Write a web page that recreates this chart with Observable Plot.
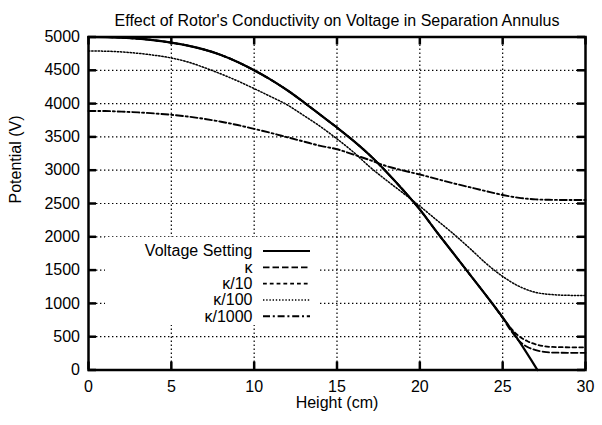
<!DOCTYPE html>
<html><head><meta charset="utf-8">
<script src="https://cdn.jsdelivr.net/npm/d3@7"></script>
<script src="https://cdn.jsdelivr.net/npm/@observablehq/plot@0.6"></script>
<style>
html,body{margin:0;padding:0;background:#fff;}
</style>
</head><body><div id="chart"></div>
<script>
const title = "Effect of Rotor's Conductivity on Voltage in Separation Annulus";
const xLabel = "Height (cm)";
const yLabel = "Potential (V)";
const xTicks = [0, 5, 10, 15, 20, 25, 30];
const yTicks = [0, 500, 1000, 1500, 2000, 2500, 3000, 3500, 4000, 4500, 5000];
const seriesNames = ["Voltage Setting", "κ", "κ/10", "κ/100", "κ/1000"];

const settingX = [0,1,2,3,4,5,6,7,8,9,10,11,12,13,14,15,16,17,18,19,20,21,22,23,24,25,26,27,27.1];
const settingV = [5000,4998,4990,4975,4950,4915,4870,4810,4730,4625,4500,4360,4200,4020,3830,3640,3440,3220,2970,2700,2410,2080,1760,1440,1120,790,430,40,0];

const kappaX = [0,1,2,3,4,5,6,7,8,9,10,11,12,13,14,15,16,17,18,19,20,21,22,23,24,24.5,25,25.5,26,26.5,27,27.5,28,29,30];
const kappaV = [5000,4998,4990,4975,4950,4915,4870,4810,4730,4625,4500,4360,4200,4020,3830,3640,3440,3220,2970,2700,2410,2080,1760,1440,1120,955,780,590,435,345,298,272,262,258,258];

const kappa10X = [0,1,2,3,4,5,6,7,8,9,10,11,12,13,14,15,16,17,18,19,20,21,22,23,24,24.5,25,25.5,26,26.5,27,27.5,28,29,30];
const kappa10V = [5000,4998,4990,4975,4950,4915,4870,4810,4730,4625,4500,4360,4200,4020,3830,3640,3440,3220,2970,2700,2410,2080,1760,1440,1120,955,790,625,505,432,385,357,346,341,340];

const kappa100X = [0,1,2,3,4,5,6,7,8,9,10,11,12,13,14,15,16,17,18,19,20,21,22,23,24,25,26,27,28,29,30];
const kappa100V = [4790,4787,4776,4755,4725,4685,4625,4540,4445,4340,4225,4105,3980,3820,3655,3470,3270,3045,2845,2655,2460,2255,2050,1830,1600,1405,1255,1165,1132,1121,1118];

const kappa1000X = [0,1,2,3,4,5,6,7,8,9,10,11,12,13,14,15,16,17,18,19,20,21,22,23,24,25,26,27,28,29,30];
const kappa1000V = [3890,3888,3880,3868,3852,3832,3805,3770,3728,3678,3620,3560,3495,3430,3365,3315,3235,3150,3060,2995,2935,2870,2805,2745,2685,2628,2585,2562,2555,2553,2553];

const seriesX = [settingX, kappaX, kappa10X, kappa100X, kappa1000X];
const seriesV = [settingV, kappaV, kappa10V, kappa100V, kappa1000V];

const styles = {
  "Voltage Setting": {strokeWidth: 2.2, dash: null},
  "κ": {strokeWidth: 1.8, dash: "6.5,3"},
  "κ/10": {strokeWidth: 1.8, dash: "3.8,3"},
  "κ/100": {strokeWidth: 1.5, dash: "1.4,1.8"},
  "κ/1000": {strokeWidth: 1.9, dash: "7,2.8,2,2.8"}
};

const rows = seriesNames.flatMap((name, i) =>
  seriesX[i].map((x, j) => ({series: name, x, v: seriesV[i][j]})));

const W = 602, H = 425;
const mL = 88, mR = 17, mT = 36.5, mB = 55.5;
const fw = W - mL - mR, fh = H - mT - mB;
const font = "'Liberation Sans', Arial, Helvetica, sans-serif";
const gridStyle = {stroke: "#000", strokeOpacity: 1, strokeWidth: 1.2, strokeDasharray: "1.4,2.6"};
const tickLen = 8;

function legend(index, scales, values, dims) {
  const g = d3.create("svg:g").attr("font-family", font).attr("font-size", 16);
  g.append("rect").attr("x", 105).attr("y", 237).attr("width", 213).attr("height", 88).attr("fill", "#fff");
  seriesNames.forEach((name, i) => {
    const y = 251 + i * 16.3;
    g.append("text").attr("x", 252.5).attr("y", y).attr("dy", "0.34em")
      .attr("text-anchor", "end").attr("fill", "#000").text(name);
    const s = styles[name];
    const ln = g.append("line").attr("x1", 263).attr("x2", 310).attr("y1", y).attr("y2", y)
      .attr("stroke", "#000").attr("stroke-width", s.strokeWidth);
    if (s.dash) ln.attr("stroke-dasharray", s.dash);
  });
  return g.node();
}

const interiorX = xTicks.slice(1, -1);
const interiorY = yTicks.slice(1, -1);

const marks = [
  Plot.gridX(interiorX, gridStyle),
  Plot.gridY(interiorY, gridStyle),
  legend,
  Plot.tickX(xTicks, {x: d => d, stroke: "#000", strokeWidth: 2.5, insetBottom: fh - tickLen}),
  Plot.tickX(xTicks, {x: d => d, stroke: "#000", strokeWidth: 2.5, insetTop: fh - tickLen}),
  Plot.tickY(yTicks, {y: d => d, stroke: "#000", strokeWidth: 2.5, insetRight: fw - tickLen}),
  Plot.tickY(yTicks, {y: d => d, stroke: "#000", strokeWidth: 2.5, insetLeft: fw - tickLen}),
  ...seriesNames.map(name => Plot.line(rows.filter(r => r.series === name), {
    x: "x", y: "v", stroke: "#000", strokeWidth: styles[name].strokeWidth,
    strokeDasharray: styles[name].dash || undefined, curve: "monotone-x"
  })),
  Plot.axisX({ticks: xTicks, tickSize: 0, tickPadding: 10.5, label: null, fontSize: 16, tickFormat: d3.format("d")}),
  Plot.axisY({ticks: yTicks, tickSize: 0, tickPadding: 8.5, label: null, fontSize: 16, tickFormat: d3.format("d")}),
  Plot.frame({stroke: "#000", strokeWidth: 2.5}),
  Plot.text([title], {text: d => d, frameAnchor: "top", dy: -22, fontSize: 16, fill: "#000"}),
  Plot.text([xLabel], {text: d => d, frameAnchor: "bottom", dy: 37.7, fontSize: 16, fill: "#000"}),
  Plot.text([yLabel], {text: d => d, frameAnchor: "left", dx: -73, rotate: -90, fontSize: 16, fill: "#000"})
];

const chart = Plot.plot({
  width: W, height: H,
  marginLeft: mL, marginRight: mR, marginTop: mT, marginBottom: mB,
  style: {fontFamily: font, fontSize: "16px", color: "#000", background: "#fff", overflow: "visible"},
  x: {domain: [0, 30], axis: null},
  y: {domain: [0, 5000], axis: null},
  marks
});
document.getElementById("chart").appendChild(chart);
</script>
</body></html>
